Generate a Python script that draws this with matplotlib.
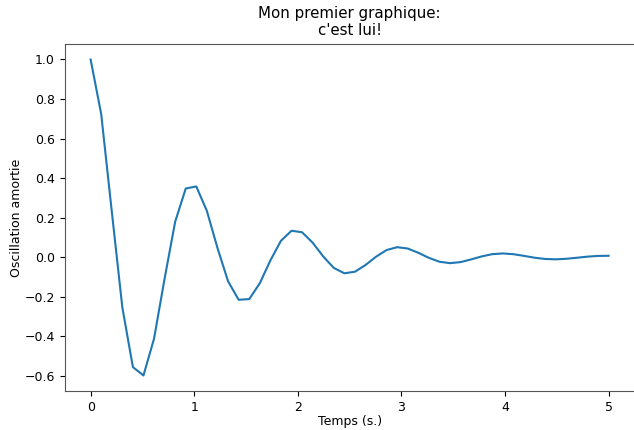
import matplotlib
matplotlib.use("Agg")
import matplotlib.pyplot as plt

# temps en secondes
temps = [0.000, 0.102, 0.204, 0.306, 0.408, 0.510, 0.612, 0.714, 0.816, 0.918,
         1.020, 1.122, 1.224, 1.327, 1.429, 1.531, 1.633, 1.735, 1.837, 1.939,
         2.041, 2.143, 2.245, 2.347, 2.449, 2.551, 2.653, 2.755, 2.857, 2.959,
         3.061, 3.163, 3.265, 3.367, 3.469, 3.571, 3.673, 3.776, 3.878, 3.980,
         4.082, 4.184, 4.286, 4.388, 4.490, 4.592, 4.694, 4.796, 4.898, 5.000]

# oscillation amortie
signal = [1.0000, 0.7237, 0.2320, -0.2543, -0.5566, -0.5991, -0.4128, -0.1089, 0.1790, 0.3471,
          0.3575, 0.2338, 0.0469, -0.1228, -0.2159, -0.2124, -0.1323, -0.0169, 0.0826, 0.1333,
          0.1257, 0.0731, 0.0034, -0.0546, -0.0819, -0.0740, -0.0402, 0.0020, 0.0358, 0.0502,
          0.0434, 0.0219, -0.0037, -0.0234, -0.0306, -0.0253, -0.0117, 0.0037, 0.0149, 0.0185,
          0.0147, 0.0062, -0.0031, -0.0095, -0.0112, -0.0085, -0.0032, 0.0024, 0.0060, 0.0067]

fig = plt.figure(figsize=(6.34, 4.3), dpi=100)
ax = fig.add_axes([0.1021, 0.09, 0.8987, 0.8084])
ax.plot(temps, signal, color="#1f77b4", linewidth=1.5)
ax.set_title("Mon premier graphique:\nc'est lui!", fontsize=10.8)
ax.set_xlabel("Temps (s.)", fontsize=9, labelpad=1)
ax.set_ylabel("Oscillation amortie", fontsize=9, labelpad=1.5)
ax.tick_params(labelsize=9, length=3.5)
for sp in ax.spines.values():
    sp.set_color("#555555")
fig.savefig("out.png", dpi=100)
